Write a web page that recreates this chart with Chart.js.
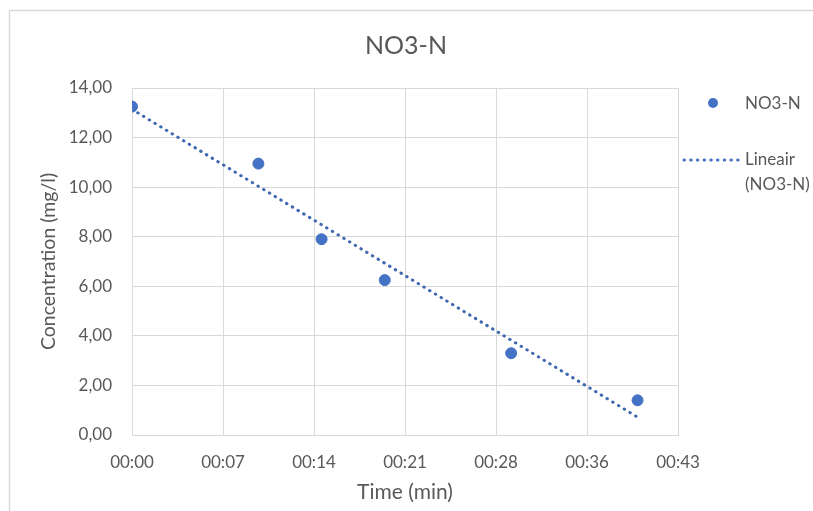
<!DOCTYPE html>
<html><head><meta charset="utf-8">
<script src="https://cdn.jsdelivr.net/npm/chart.js@4/dist/chart.umd.min.js"></script>
<style>html,body{margin:0;padding:0;background:#fff;} canvas{display:block}</style>
</head><body>
<canvas id="c" width="813" height="511"></canvas>
<script>
// ---- data ----
const timeMin = [0, 10, 15, 20, 30, 40];
const no3n = [13.25, 10.95, 7.9, 6.25, 3.3, 1.4];
const trendTime = [0, 40];
const trendNo3n = [13.14, 0.72];
const xTickLabels = ['00:00', '00:07', '00:14', '00:21', '00:28', '00:36', '00:43'];
const yTickLabels = ['0,00', '2,00', '4,00', '6,00', '8,00', '10,00', '12,00', '14,00'];
const seriesLabel = 'NO3-N';
const trendLabel = 'Lineair (NO3-N)';
const chartTitle = 'NO3-N';
const xTitle = 'Time (min)';
const yTitle = 'Concentration (mg/l)';

const FONT = 'Lato, "Open Sans", sans-serif';
const TXT = '#595959';
const GRID = '#d9d9d9';
const BLUE = '#4472C4';
const DOT = [0.5, 6.2];

const points = timeMin.map((t, i) => ({x: t, y: no3n[i]}));
const trend = trendTime.map((t, i) => ({x: t, y: trendNo3n[i]}));

const framePlugin = {
  id: 'frame',
  beforeDraw(chart) {
    const ctx = chart.ctx;
    ctx.save();
    ctx.fillStyle = '#fff';
    ctx.fillRect(0, 0, chart.width, chart.height);
    ctx.strokeStyle = GRID;
    ctx.lineWidth = 1.5;
    ctx.beginPath();
    ctx.moveTo(9, 10.5); ctx.lineTo(chart.width, 10.5);
    ctx.moveTo(9.5, 10); ctx.lineTo(9.5, chart.height);
    ctx.stroke();
    // chart title, centred on the whole chart object
    ctx.font = '25px ' + FONT;
    ctx.fillStyle = TXT;
    ctx.textAlign = 'center';
    ctx.textBaseline = 'middle';
    ctx.fillText(chartTitle, 406, 46);
    ctx.restore();
  }
};

const legendPlugin = {
  id: 'customLegend',
  afterDraw(chart) {
    const ctx = chart.ctx;
    const ds = chart.data.datasets;
    ctx.save();
    ctx.font = '17px ' + FONT;
    ctx.textBaseline = 'middle';
    ctx.textAlign = 'left';
    // scatter entry
    ctx.beginPath();
    ctx.fillStyle = BLUE;
    ctx.arc(713, 103, 5, 0, Math.PI * 2);
    ctx.fill();
    ctx.fillStyle = TXT;
    ctx.fillText(ds[0].label, 745, 104);
    // trend entry
    ctx.strokeStyle = BLUE;
    ctx.lineWidth = 3;
    ctx.lineCap = 'round';
    ctx.setLineDash(DOT);
    ctx.beginPath();
    ctx.moveTo(684, 160); ctx.lineTo(742, 160);
    ctx.stroke();
    ctx.setLineDash([]);
    const parts = ds[1].label.split(' ');
    ctx.fillText(parts[0], 745, 160);
    ctx.fillText(parts.slice(1).join(' '), 745, 185);
    ctx.restore();
  }
};

new Chart(document.getElementById('c'), {
  type: 'scatter',
  data: {
    datasets: [
      {
        label: seriesLabel,
        data: points,
        backgroundColor: BLUE,
        borderColor: BLUE,
        pointRadius: 5.5,
        pointHoverRadius: 5.5,
        order: 0
      },
      {
        label: trendLabel,
        type: 'line',
        data: trend,
        showLine: true,
        fill: false,
        borderColor: '#3f68b0',
        borderWidth: 3,
        borderDash: DOT,
        borderCapStyle: 'round',
        pointRadius: 0,
        pointHoverRadius: 0,
        order: 1
      }
    ]
  },
  options: {
    responsive: false,
    animation: false,
    events: [],
    layout: { padding: { left: 0, right: 135, top: 88, bottom: 0 } },
    plugins: {
      legend: { display: false },
      tooltip: { enabled: false },
      title: { display: false }
    },
    scales: {
      x: {
        type: 'linear',
        min: 0,
        max: 43.2,
        afterFit(s) { s.height = 76; },
        afterBuildTicks(s) {
          s.ticks = xTickLabels.map((_, i) => ({ value: i * 7.2 }));
        },
        ticks: {
          autoSkip: false,
          maxRotation: 0,
          padding: 17,
          color: TXT,
          font: { family: FONT, size: 17 },
          callback: (v, i) => xTickLabels[i]
        },
        grid: { color: GRID, lineWidth: 1, drawTicks: false },
        border: { color: GRID },
        title: {
          display: true,
          text: xTitle,
          color: TXT,
          font: { family: FONT, size: 21 },
          padding: { top: 0, bottom: 6.4 }
        }
      },
      y: {
        min: 0,
        max: 14,
        afterFit(s) { s.width = 132; },
        afterBuildTicks(s) {
          s.ticks = yTickLabels.map((_, i) => ({ value: i * 2 }));
        },
        ticks: {
          padding: 20,
          color: TXT,
          font: { family: FONT, size: 17 },
          callback: (v, i) => yTickLabels[i]
        },
        grid: { color: GRID, lineWidth: 1, drawTicks: false },
        border: { color: GRID },
        title: {
          display: true,
          text: yTitle,
          color: TXT,
          font: { family: FONT, size: 19.5 },
          padding: { top: 37, bottom: 0 }
        }
      }
    }
  },
  plugins: [framePlugin, legendPlugin]
});
</script>
</body></html>
